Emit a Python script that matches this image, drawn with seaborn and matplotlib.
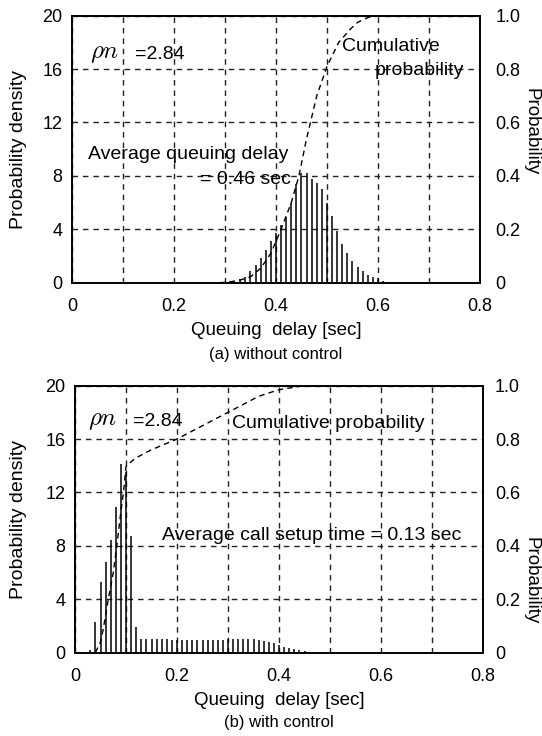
import numpy as np
import matplotlib
matplotlib.use("Agg")
import matplotlib.pyplot as plt
import seaborn as sns

# ----------------- Data -----------------
# (a) without control: density bars every 10 ms
top_delay = [0.30, 0.31, 0.32, 0.33, 0.34, 0.35, 0.36, 0.37, 0.38, 0.39,
             0.40, 0.41, 0.42, 0.43, 0.44, 0.45, 0.46, 0.47, 0.48, 0.49,
             0.50, 0.51, 0.52, 0.53, 0.54, 0.55, 0.56, 0.57, 0.58, 0.59,
             0.60, 0.61, 0.62, 0.63]
top_density = [0.05, 0.1, 0.08, 0.28, 0.45, 0.9, 1.33, 1.85, 2.45, 3.1,
               3.7, 4.3, 4.95, 6.0, 7.4, 8.2, 8.2, 7.8, 7.5, 7.0,
               6.0, 5.0, 3.9, 2.9, 2.2, 1.6, 1.2, 0.9, 0.6, 0.4,
               0.33, 0.15, 0.08, 0.04]
top_cdf_x = [0.29, 0.31, 0.33, 0.35, 0.37, 0.39, 0.41, 0.43, 0.445, 0.46,
             0.48, 0.50, 0.523, 0.546, 0.56, 0.58, 0.60]
top_cdf_p = [0.0, 0.003, 0.01, 0.022, 0.054, 0.11, 0.2, 0.3, 0.4, 0.54,
             0.7, 0.81, 0.9, 0.95, 0.975, 0.993, 1.0]

# (b) with control
bot_delay = [0.03, 0.04, 0.05, 0.06, 0.07, 0.08, 0.09, 0.10, 0.11, 0.12,
             0.13, 0.14, 0.15, 0.16, 0.17, 0.18, 0.19, 0.20, 0.21, 0.22,
             0.23, 0.24, 0.25, 0.26, 0.27, 0.28, 0.29, 0.30, 0.31, 0.32,
             0.33, 0.34, 0.35, 0.36, 0.37, 0.38, 0.39, 0.40, 0.41, 0.42,
             0.43, 0.44, 0.45, 0.46]
bot_density = [0.17, 2.3, 5.3, 6.8, 8.4, 10.9, 14.1, 13.5, 8.7, 1.9,
               1.0, 1.0, 1.0, 1.0, 1.0, 0.98, 0.95, 0.92, 0.92, 0.93,
               0.93, 0.93, 0.93, 0.93, 0.93, 0.93, 0.95, 1.0, 1.02, 1.02,
               1.02, 1.0, 0.98, 0.95, 0.9, 0.8, 0.7, 0.6, 0.45, 0.35,
               0.25, 0.17, 0.1, 0.05]
bot_cdf_x = [0.04, 0.05, 0.055, 0.065, 0.075, 0.082, 0.09, 0.095, 0.10, 0.11,
             0.12, 0.15, 0.20, 0.25, 0.30, 0.36, 0.40, 0.45, 0.50]
bot_cdf_p = [0.0, 0.04, 0.084, 0.197, 0.3, 0.4, 0.53, 0.6, 0.697, 0.715,
             0.73, 0.76, 0.8, 0.85, 0.9, 0.96, 0.985, 1.0, 1.0]

xticks = [0, 0.2, 0.4, 0.6, 0.8]
yticks = [0, 4, 8, 12, 16, 20]
pticks = [0, 0.2, 0.4, 0.6, 0.8, 1.0]

# ----------------- Style -----------------
sns.set_theme(style="white")
plt.rcParams['font.family'] = ['Liberation Sans', 'DejaVu Sans']
plt.rcParams['mathtext.fontset'] = 'cm'
for key in ['text.color', 'axes.labelcolor', 'xtick.color', 'ytick.color']:
    plt.rcParams[key] = 'black'
FS = 14   # labels and annotations
TS = 13   # tick labels

fig = plt.figure(figsize=(5.42, 7.36), dpi=100)
ax_top = fig.add_axes([0.1328, 0.6159, 0.7528, 0.3628])
ax_bot = fig.add_axes([0.1384, 0.1134, 0.7528, 0.3626])

grid_kw = dict(color='#222222', linestyle=(0, (4, 3.5)), linewidth=1.0)


def draw_panel(ax, delay, density, cdf_x, cdf_p, llabel_x, rpad, rlabel_x, rlabel_y):
    ax.vlines(delay, 0, density, color='black', linewidth=1.1, zorder=3)
    ax.set_xlim(0, 0.8)
    ax.set_ylim(0, 20)
    ax.set_xticks(xticks)
    ax.set_xticklabels(['0', '0.2', '0.4', '0.6', '0.8'])
    ax.set_xticks(np.arange(0.1, 0.8, 0.2), minor=True)
    ax.set_yticks(yticks)
    ax.set_yticklabels([str(v) for v in yticks])
    ax.grid(True, which='both', axis='x', **grid_kw)
    ax.grid(True, which='major', axis='y', **grid_kw)
    ax.tick_params(axis='x', which='both', direction='in', length=0, pad=11, labelsize=TS)
    ax.tick_params(axis='y', direction='in', length=0, pad=7, labelsize=TS)
    ax.set_ylabel('Probability density', fontsize=FS)
    ax.yaxis.set_label_coords(llabel_x, 0.5)
    ax.set_xlabel('Queuing  delay [sec]', fontsize=13.5, labelpad=5)
    for s in ax.spines.values():
        s.set_color('black')
        s.set_linewidth(1.4)

    ax2 = ax.twinx()
    sns.lineplot(x=cdf_x, y=cdf_p, ax=ax2, color='black', linewidth=1.0,
                 linestyle=(0, (4, 3)))
    ax2.set_ylim(0, 1.0)
    ax2.set_yticks(pticks)
    ax2.set_yticklabels(['0', '0.2', '0.4', '0.6', '0.8', '1.0'])
    ax2.tick_params(axis='y', direction='in', length=0, pad=rpad, labelsize=TS)
    ax2.set_ylabel('Probability', fontsize=13.5, rotation=-90, va='center', ha='center')
    ax2.yaxis.set_label_coords(rlabel_x, rlabel_y)
    ax2.grid(False)
    for s in ax2.spines.values():
        s.set_visible(False)
    return ax2


draw_panel(ax_top, top_delay, top_density, top_cdf_x, top_cdf_p, -0.11, 11, 1.125, 0.564)
draw_panel(ax_bot, bot_delay, bot_density, bot_cdf_x, bot_cdf_p, -0.118, 8.5, 1.118, 0.27)

# annotations, top
ax_top.text(0.035, 17.2, r'$\rho n$', fontsize=18, va='center', ha='left')
ax_top.text(0.124, 17.1, '=2.84', fontsize=FS, va='center', ha='left')
ax_top.text(0.529, 17.7, 'Cumulative', fontsize=FS, va='center', ha='left')
ax_top.text(0.594, 15.9, 'probability', fontsize=FS, va='center', ha='left')
ax_top.text(0.031, 9.6, 'Average queuing delay', fontsize=FS, va='center', ha='left')
ax_top.text(0.251, 7.7, '= 0.46 sec', fontsize=FS, va='center', ha='left')

# annotations, bottom
ax_bot.text(0.025, 17.4, r'$\rho n$', fontsize=18, va='center', ha='left')
ax_bot.text(0.114, 17.3, '=2.84', fontsize=FS, va='center', ha='left')
ax_bot.text(0.307, 17.2, 'Cumulative probability', fontsize=FS, va='center', ha='left')
ax_bot.text(0.17, 8.8, 'Average call setup time = 0.13 sec', fontsize=FS,
            va='center', ha='left')

fig.text(0.509, 0.5177, '(a) without control', fontsize=12, ha='center', va='center')
fig.text(0.515, 0.0177, '(b) with control', fontsize=12, ha='center', va='center')

fig.savefig('out.png', dpi=100)
